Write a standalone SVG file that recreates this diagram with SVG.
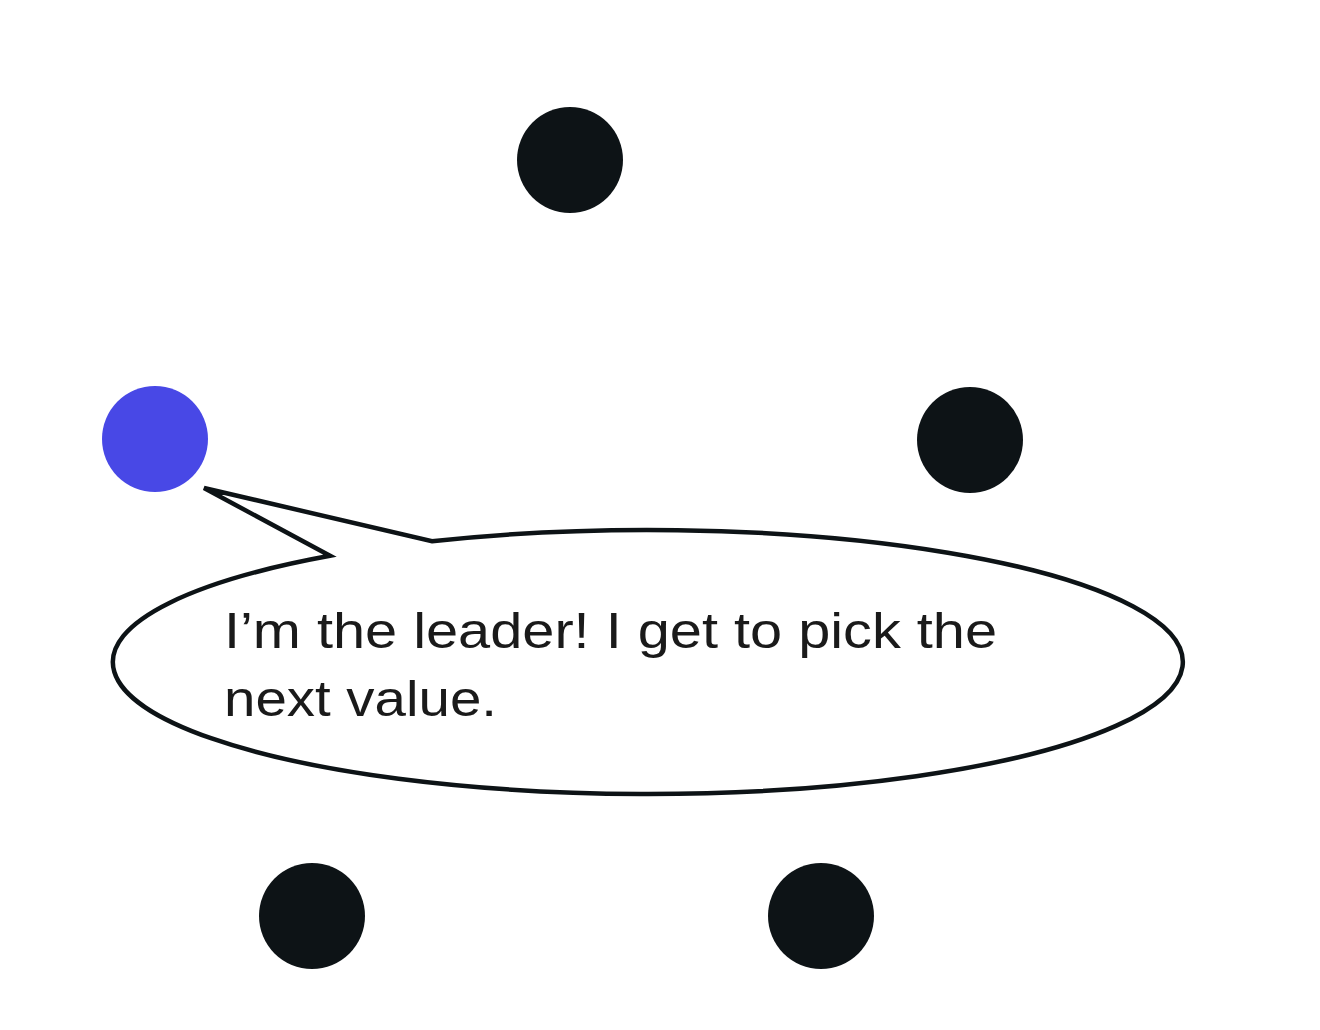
<svg xmlns="http://www.w3.org/2000/svg" width="1320" height="1030" viewBox="0 0 1320 1030">
<style>
.node{fill:#0d1316}
.leader{fill:#4848e6}
.bubble{fill:#ffffff;stroke:#0d1316;stroke-width:4.5;stroke-linejoin:miter}
.label{font-family:"Liberation Sans","Noto Sans",sans-serif;font-size:50px;fill:#1a1a1a}
</style>
<rect width="1320" height="1030" fill="#ffffff"/>
<g id="node-top"><circle class="node" cx="570" cy="160" r="53"/></g>
<g id="node-right"><circle class="node" cx="970" cy="440" r="53"/></g>
<g id="node-bottom-left"><circle class="node" cx="312" cy="916" r="53"/></g>
<g id="node-bottom-right"><circle class="node" cx="821" cy="916" r="53"/></g>
<g id="node-leader"><circle class="leader" cx="155" cy="439" r="53"/></g>
<g id="speech-bubble">
<path class="bubble" d="M330,555.8 L204,488 L432,541.2 A535 132 0 1 1 330,555.8 Z"/>
<text class="label" x="224" y="648" textLength="773" lengthAdjust="spacingAndGlyphs">I’m the leader! I get to pick the</text>
<text class="label" x="224" y="716" textLength="273" lengthAdjust="spacingAndGlyphs">next value.</text>
</g>
</svg>
